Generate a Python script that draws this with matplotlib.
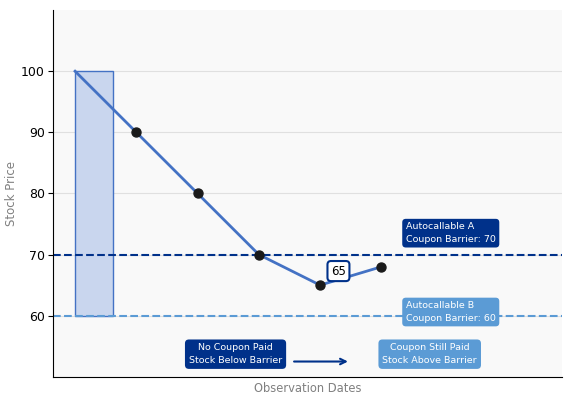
import matplotlib.pyplot as plt
from matplotlib.patches import Rectangle

# Observation dates and stock path
obs = [0, 1, 2, 3, 4, 5]
price = [100, 90, 80, 70, 65, 68]

barrier_a = 70
barrier_b = 60
start_level = 100

navy = '#00318a'
light = '#5b9bd5'
line_blue = '#4472c4'

plt.rcParams['font.family'] = ['DejaVu Sans']
box_fs = 6.8

fig, ax = plt.subplots(figsize=(5.7, 4.03), dpi=100)
fig.subplots_adjust(left=0.093, right=0.986, top=0.975, bottom=0.065)
ax.set_facecolor('#f9f9f9')

# shaded initial range
ax.add_patch(Rectangle((obs[0], barrier_b), 0.62, start_level - barrier_b,
                       facecolor='#c9d6ee', edgecolor=line_blue, linewidth=1, zorder=2))

ax.plot(obs, price, color=line_blue, linewidth=2, zorder=3)
ax.scatter(obs[1:], price[1:], color='#1a1a1a', s=42, zorder=4)

ax.axhline(barrier_a, color=navy, linestyle='--', linewidth=1.5, zorder=2.5)
ax.axhline(barrier_b, color=light, linestyle='--', linewidth=1.5, zorder=2.5)

ax.text(5.4, 73.5, 'Autocallable A\nCoupon Barrier: 70', color='white', fontsize=box_fs,
        va='center', ha='left', linespacing=1.5,
        bbox=dict(boxstyle='round,pad=0.38', facecolor=navy, edgecolor='none'), zorder=5)
ax.text(5.4, 60.6, 'Autocallable B\nCoupon Barrier: 60', color='white', fontsize=box_fs,
        va='center', ha='left', linespacing=1.5,
        bbox=dict(boxstyle='round,pad=0.38', facecolor=light, edgecolor='none'), zorder=5)

ax.text(4.3, 67.3, '65', color='black', fontsize=8.5, ha='center', va='center',
        bbox=dict(boxstyle='round,pad=0.3', facecolor='white', edgecolor=navy, linewidth=1.5),
        zorder=5)

ax.text(2.62, 53.7, 'No Coupon Paid\nStock Below Barrier', color='white', fontsize=box_fs,
        ha='center', va='center', linespacing=1.5,
        bbox=dict(boxstyle='round,pad=0.42', facecolor=navy, edgecolor='none'), zorder=5)
ax.text(5.79, 53.7, 'Coupon Still Paid\nStock Above Barrier', color='white', fontsize=box_fs,
        ha='center', va='center', linespacing=1.5,
        bbox=dict(boxstyle='round,pad=0.42', facecolor=light, edgecolor='none'), zorder=5)
ax.annotate('', xy=(4.5, 52.5), xytext=(3.53, 52.5),
            arrowprops=dict(arrowstyle='->', color=navy, lw=1.5))

ax.set_xlim(-0.36, 7.95)
ax.set_ylim(50, 110)
ax.set_yticks([60, 70, 80, 90, 100])
ax.set_xticks([])
ax.tick_params(axis='y', labelsize=9, length=3.5, pad=2.5)
ax.yaxis.grid(True, color='#e0e0e0', linewidth=0.8)
ax.set_axisbelow(True)
ax.set_xlabel('Observation Dates', color='gray', fontsize=8.3, labelpad=4)
ax.set_ylabel('Stock Price', color='gray', fontsize=8.5, labelpad=2)
for s in ['top', 'right']:
    ax.spines[s].set_visible(False)

plt.savefig('out.png', dpi=100)
